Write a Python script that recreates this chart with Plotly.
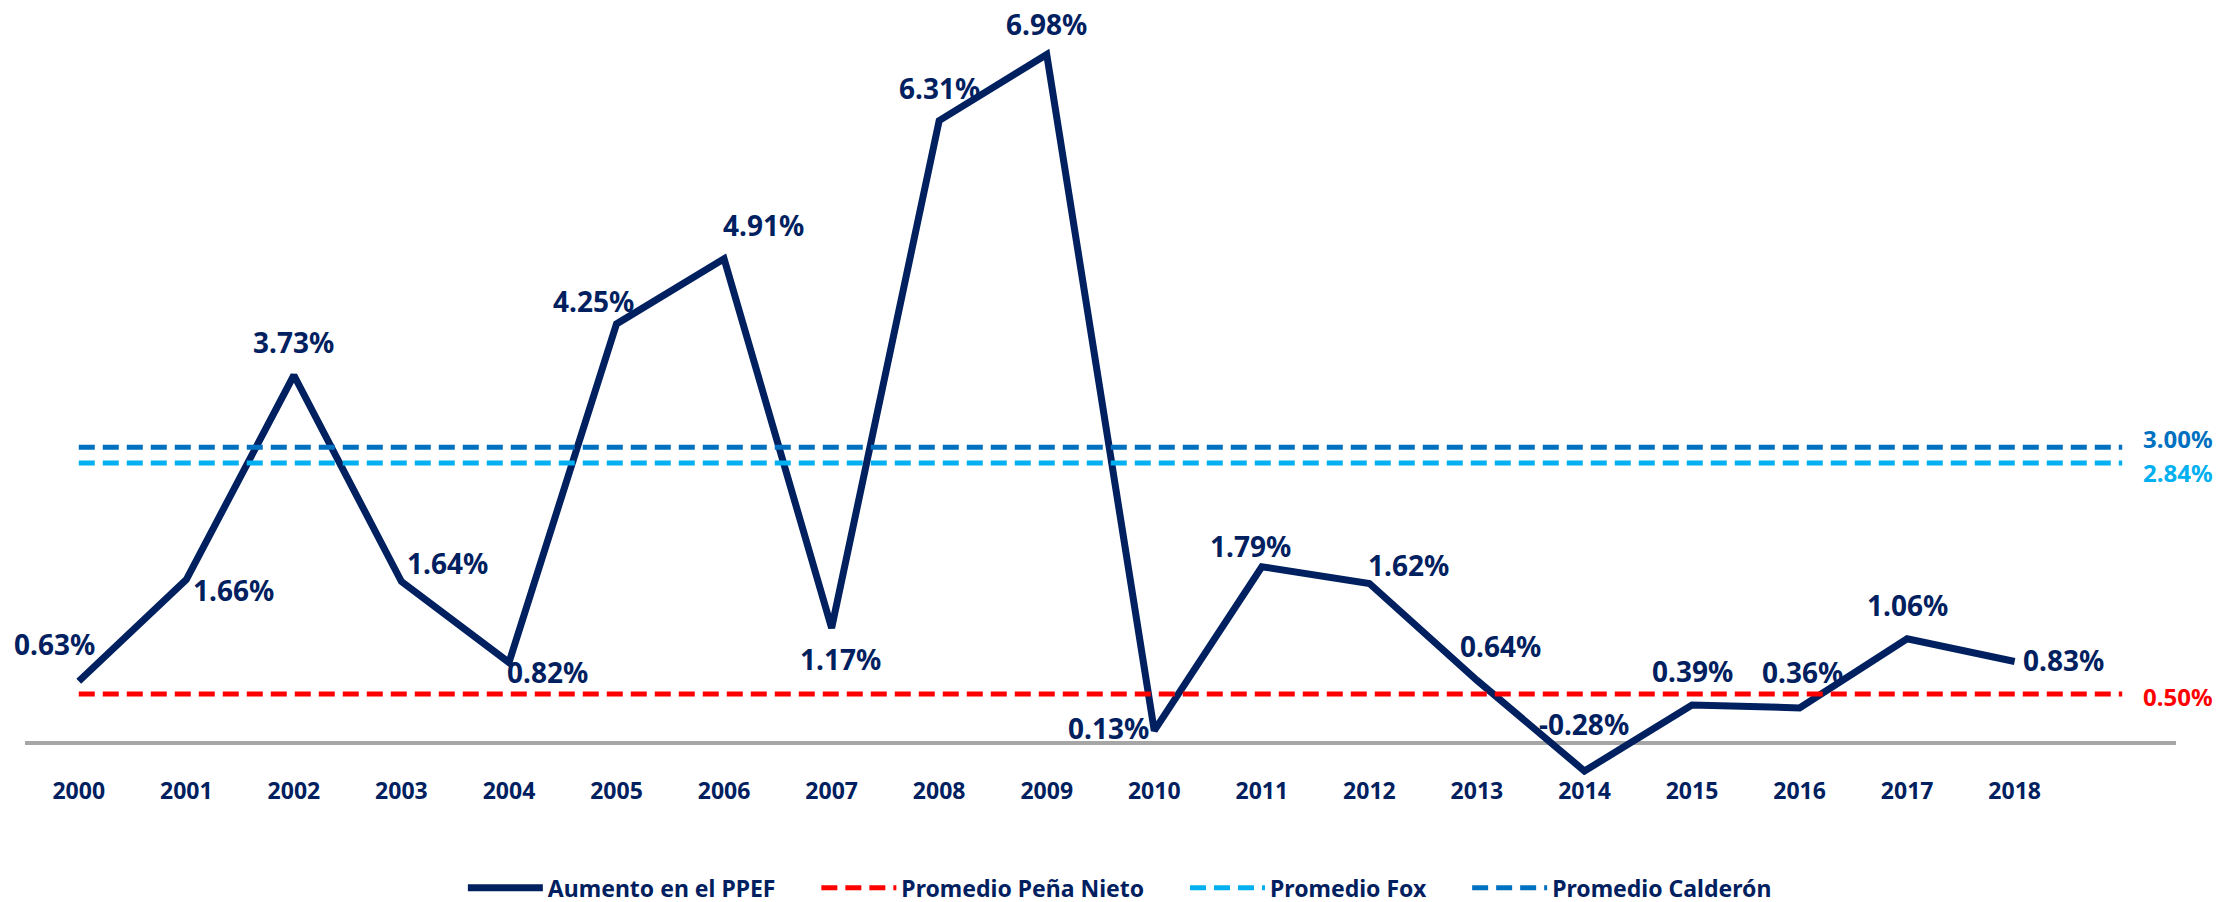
import plotly.graph_objects as go

years = list(range(2000, 2019))
values = [0.63, 1.66, 3.73, 1.64, 0.82, 4.25, 4.91, 1.17, 6.31, 6.98,
          0.13, 1.79, 1.62, 0.64, -0.28, 0.39, 0.36, 1.06, 0.83]
avg_years = list(range(2000, 2020))
avg_pena = 0.50
avg_fox = 2.84
avg_calderon = 3.00
series_names = ["Aumento en el PPEF", "Promedio Peña Nieto", "Promedio Fox", "Promedio Calderón"]

NAVY = "#002060"
RED = "#FF0000"
FOX = "#00B0F0"
CAL = "#0070C0"
FONT = "Noto Sans"
PAD = "\u00a0" * 6  # spacing between legend entries

# label offsets (xshift, yshift) in pixels
label_offsets = [(-24, 37), (47, -10), (0, 33), (46, 19), (39, -10), (-23, 23), (39, 34),
                 (9, -31), (0, 33), (0, 30), (-46, 3), (-11, 21), (39, 19), (24, 34),
                 (0, 47), (0, 34), (3, 36), (0, 34), (49, 1)]

fig = go.Figure()
fig.add_trace(go.Scatter(x=years, y=values, mode="lines", name=series_names[0] + PAD,
                         line=dict(color=NAVY, width=7), cliponaxis=False))
fig.add_trace(go.Scatter(x=avg_years, y=[avg_pena] * len(avg_years), mode="lines",
                         name=series_names[1] + PAD, line=dict(color=RED, width=5, dash="16px,8px")))
fig.add_trace(go.Scatter(x=avg_years, y=[avg_fox] * len(avg_years), mode="lines",
                         name=series_names[2] + PAD, line=dict(color=FOX, width=5, dash="16px,8px")))
fig.add_trace(go.Scatter(x=avg_years, y=[avg_calderon] * len(avg_years), mode="lines",
                         name=series_names[3], line=dict(color=CAL, width=5, dash="16px,8px")))

annotations = []
for yr, v, (dx, dy) in zip(years, values, label_offsets):
    annotations.append(dict(x=yr, y=v, text=f"{v:.2f}%", showarrow=False,
                            xshift=dx, yshift=dy,
                            font=dict(family=FONT, size=28, color=NAVY, weight="bold")))

for val, col, dy in [(avg_calderon, CAL, 9), (avg_fox, FOX, -9), (avg_pena, RED, -2)]:
    annotations.append(dict(x=avg_years[-1], y=val, text=f"{val:.2f}%", showarrow=False,
                            xanchor="left", xshift=19, yshift=dy,
                            font=dict(family=FONT, size=24, color=col, weight="bold")))

fig.update_layout(
    width=2237, height=902,
    margin=dict(l=17, r=69, t=5, b=135, autoexpand=False),
    paper_bgcolor="white", plot_bgcolor="white",
    showlegend=True,
    legend=dict(orientation="h", x=0.509, xanchor="center", y=-0.148, yanchor="middle",
                font=dict(family=FONT, size=23, color=NAVY, weight="bold"),
                itemwidth=75),
    annotations=annotations,
    xaxis=dict(range=[1999.5, 2019.5], tickvals=years, ticktext=[str(y) for y in years],
               showgrid=False, zeroline=False, showline=False, ticks="",
               tickfont=dict(family=FONT, size=23, color=NAVY, weight="bold")),
    yaxis=dict(range=[-0.32, 7.4], showgrid=False, showticklabels=False,
               zeroline=True, zerolinecolor="#A6A6A6", zerolinewidth=4, showline=False),
)

fig.write_html("out.html")
